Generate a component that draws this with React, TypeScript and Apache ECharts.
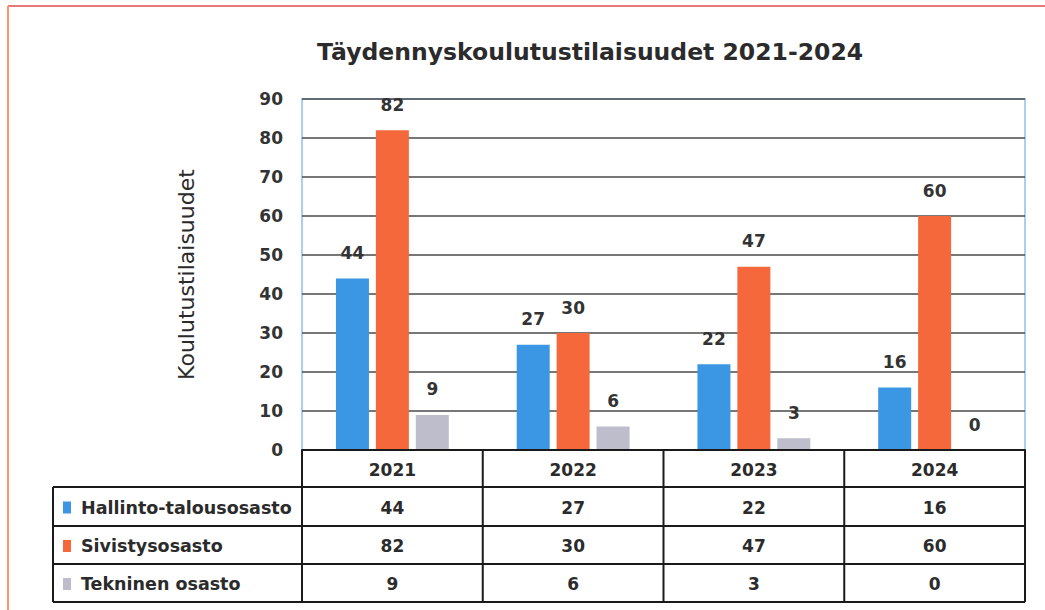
import React, { useEffect, useRef } from "react";
import * as echarts from "echarts";

const titleText = "Täydennyskoulutustilaisuudet 2021-2024";
const yAxisName = "Koulutustilaisuudet";
const years = ["2021", "2022", "2023", "2024"];
const seriesNames = ["Hallinto-talousosasto", "Sivistysosasto", "Tekninen osasto"];
const hallinto = [44, 27, 22, 16];
const sivistys = [82, 30, 47, 60];
const tekninen = [9, 6, 3, 0];
const yMin = 0;
const yMax = 90;
const yInterval = 10;

const seriesValues = [hallinto, sivistys, tekninen];
const colors = ["#3b97e3", "#f4683b", "#bdbdcb"];
const FONT = "'DejaVu Sans', 'Open Sans', sans-serif";
const TEXT = "#2b2b2b";

const W = 1045;
const H = 610;
const GRID_LEFT = 302;
const GRID_RIGHT = 1025;
const GRID_TOP = 99;
const AXIS_Y = 450;
const TABLE_LEFT = 53;
const ROW_LINES = [450, 487, 526, 564, 602];

function buildTable() {
  const els: any[] = [];
  const colW = (GRID_RIGHT - GRID_LEFT) / years.length;
  const line = (x1: number, y1: number, x2: number, y2: number) => ({
    type: "line",
    shape: { x1, y1, x2, y2 },
    style: { stroke: "#1a1a1a", lineWidth: 2 },
    z: 10,
  });
  els.push(line(GRID_LEFT, ROW_LINES[0], GRID_RIGHT, ROW_LINES[0]));
  for (let i = 1; i < ROW_LINES.length; i++) {
    els.push(line(TABLE_LEFT, ROW_LINES[i], GRID_RIGHT, ROW_LINES[i]));
  }
  for (let c = 0; c <= years.length; c++) {
    const x = GRID_LEFT + c * colW;
    els.push(line(x, ROW_LINES[0], x, ROW_LINES[ROW_LINES.length - 1]));
  }
  els.push(line(TABLE_LEFT, ROW_LINES[1], TABLE_LEFT, ROW_LINES[ROW_LINES.length - 1]));
  years.forEach((y, c) => {
    els.push({
      type: "text",
      x: GRID_LEFT + (c + 0.5) * colW,
      y: (ROW_LINES[0] + ROW_LINES[1]) / 2 + 1,
      style: {
        text: y,
        fill: TEXT,
        font: `bold 17px ${FONT}`,
        align: "center",
        verticalAlign: "middle",
      },
      z: 11,
    });
  });
  seriesNames.forEach((name, r) => {
    const cy = (ROW_LINES[r + 1] + ROW_LINES[r + 2]) / 2 + 1;
    els.push({
      type: "rect",
      shape: { x: 63, y: cy - 6, width: 8, height: 12 },
      style: { fill: colors[r] },
      z: 11,
    });
    els.push({
      type: "text",
      x: 81,
      y: cy,
      style: {
        text: name,
        fill: TEXT,
        font: `bold 17.5px ${FONT}`,
        align: "left",
        verticalAlign: "middle",
      },
      z: 11,
    });
    seriesValues[r].forEach((v, c) => {
      els.push({
        type: "text",
        x: GRID_LEFT + (c + 0.5) * colW,
        y: cy,
        style: {
          text: String(v),
          fill: TEXT,
          font: `bold 17px ${FONT}`,
          align: "center",
          verticalAlign: "middle",
        },
        z: 11,
      });
    });
  });
  els.push({
    type: "line",
    shape: { x1: 8, y1: 6, x2: W, y2: 6 },
    style: { stroke: "#e8767a", lineWidth: 2 },
  });
  els.push({
    type: "line",
    shape: { x1: 8, y1: 6, x2: 8, y2: H },
    style: { stroke: "#f29a6c", lineWidth: 2 },
  });
  return els;
}

export default function App() {
  const ref = useRef<HTMLDivElement>(null);
  useEffect(() => {
    document.body.style.margin = "0";
    if (!ref.current) return;
    const chart = echarts.init(ref.current, undefined, { renderer: "svg" });
    chart.setOption({
      animation: false,
      backgroundColor: "#ffffff",
      title: {
        text: titleText,
        left: 585,
        textAlign: "center",
        top: 35,
        textStyle: { fontFamily: FONT, fontSize: 23.5, fontWeight: "bold", color: TEXT },
      },
      grid: {
        left: GRID_LEFT,
        right: W - GRID_RIGHT,
        top: GRID_TOP,
        bottom: H - AXIS_Y,
        show: true,
        borderColor: "#a9cff2",
        borderWidth: 2,
      },
      xAxis: {
        type: "category",
        data: years,
        axisLine: { show: true, lineStyle: { color: "#1a1a1a", width: 2 } },
        axisTick: { show: false },
        axisLabel: { show: false },
        splitLine: { show: false },
      },
      yAxis: {
        type: "value",
        min: yMin,
        max: yMax,
        interval: yInterval,
        name: yAxisName,
        nameLocation: "middle",
        nameGap: 105,
        nameTextStyle: { fontFamily: FONT, fontSize: 22, color: TEXT },
        axisLine: { show: false },
        axisTick: { show: false },
        axisLabel: {
          margin: 19,
          fontFamily: FONT,
          fontSize: 17,
          fontWeight: "bold",
          color: "#333",
        },
        splitLine: { show: true, lineStyle: { color: "#4a4a4a", width: 1.5 } },
      },
      series: seriesNames.map((name, i) => ({
        name,
        type: "bar",
        data: seriesValues[i],
        barWidth: 33,
        barGap: "21%",
        itemStyle: { color: colors[i] },
        label: {
          show: true,
          position: "top",
          distance: 17,
          fontFamily: FONT,
          fontSize: 17,
          fontWeight: "bold",
          color: "#333",
        },
      })),
      graphic: buildTable(),
    });
    return () => chart.dispose();
  }, []);
  return <div ref={ref} style={{ width: W, height: H }} />;
}
